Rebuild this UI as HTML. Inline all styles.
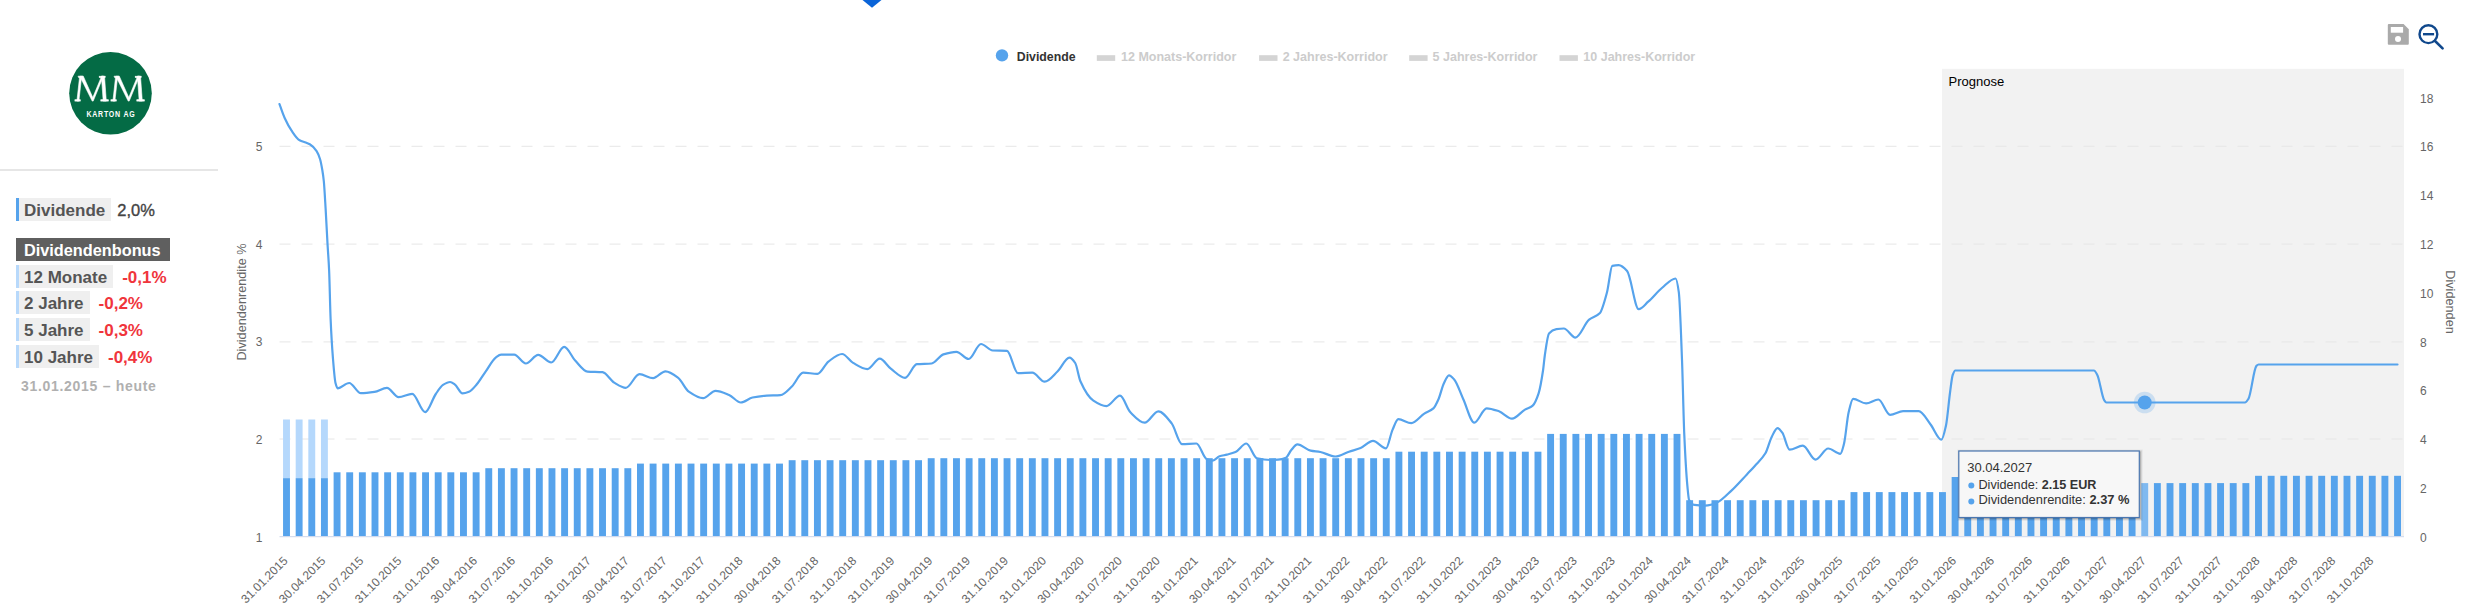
<!DOCTYPE html>
<html><head><meta charset="utf-8"><style>
html,body{margin:0;padding:0;background:#fff;width:2471px;height:616px;overflow:hidden;position:relative;font-family:"Liberation Sans",sans-serif}
svg text{font-family:"Liberation Sans",sans-serif}
.row{position:absolute;left:16px;height:23px;white-space:nowrap;font-size:17px;line-height:23px}
.row>span>i{font-style:normal;position:relative;top:1px}
.lab{display:inline-block;border-left:3px solid #b8d9fb;background:#efefef;padding:0 6px 0 5px;color:#555;font-weight:bold;height:23px}
.val{display:inline-block;margin-left:9px;color:#f0353c;font-weight:bold}
</style></head><body>
<svg width="2471" height="616" style="position:absolute;left:0;top:0">
<path d="M862.5,0 L881.5,0 L872,7.8 Z" fill="#0a64d8"/>
<g id="logo">
<circle cx="110.5" cy="93.3" r="41.3" fill="#046b45"/>
<g fill="#fff" stroke="#fff" stroke-width="0.6" id="m1">
<polygon points="76.9,101.1 78.9,101.1 81.6,76.8 79.6,76.8"/>
<rect x="74.9" y="99.7" width="5.4" height="1.4"/>
<polygon points="78,76.2 82.8,76.2 82.8,77.6 78.6,77.6"/>
<polygon points="79.8,76.2 83.3,76.2 92.8,97.5 101.6,76.2 103.4,76.2 93.2,101.1 92.2,101.1"/>
<polygon points="101.4,76.2 104.5,76.2 106.3,101.1 103.2,101.1"/>
<rect x="99.2" y="76.2" width="6" height="1.4"/>
<rect x="100.8" y="99.7" width="7.6" height="1.4"/>
</g>
<g fill="#fff" stroke="#fff" stroke-width="0.6" transform="translate(36,0)">
<polygon points="76.9,101.1 78.9,101.1 81.6,76.8 79.6,76.8"/>
<rect x="74.9" y="99.7" width="5.4" height="1.4"/>
<polygon points="78,76.2 82.8,76.2 82.8,77.6 78.6,77.6"/>
<polygon points="79.8,76.2 83.3,76.2 92.8,97.5 101.6,76.2 103.4,76.2 93.2,101.1 92.2,101.1"/>
<polygon points="101.4,76.2 104.5,76.2 106.3,101.1 103.2,101.1"/>
<rect x="99.2" y="76.2" width="6" height="1.4"/>
<rect x="100.8" y="99.7" width="7.6" height="1.4"/>
</g>
<text transform="translate(86.4,116.6) scale(0.78,1)" font-size="9" font-weight="bold" fill="#fff" letter-spacing="1">KARTON AG</text>
</g>
<rect x="1942" y="68.8" width="462" height="467.5" fill="#f2f2f2"/>
<line x1="279.5" y1="146.3" x2="2404" y2="146.3" stroke="#e6e6e6" stroke-width="1" stroke-dasharray="11,11"/><line x1="279.5" y1="244.1" x2="2404" y2="244.1" stroke="#e6e6e6" stroke-width="1" stroke-dasharray="11,11"/><line x1="279.5" y1="341.9" x2="2404" y2="341.9" stroke="#e6e6e6" stroke-width="1" stroke-dasharray="11,11"/><line x1="279.5" y1="439.0" x2="2404" y2="439.0" stroke="#e6e6e6" stroke-width="1" stroke-dasharray="11,11"/>
<rect x="283.05" y="478.1" width="6.9" height="58.1" fill="#56a3ec"/><rect x="283.05" y="419.5" width="6.9" height="58.6" fill="#b5d8fc"/><rect x="295.69" y="478.1" width="6.9" height="58.1" fill="#56a3ec"/><rect x="295.69" y="419.5" width="6.9" height="58.6" fill="#b5d8fc"/><rect x="308.33" y="478.1" width="6.9" height="58.1" fill="#56a3ec"/><rect x="308.33" y="419.5" width="6.9" height="58.6" fill="#b5d8fc"/><rect x="320.97" y="478.1" width="6.9" height="58.1" fill="#56a3ec"/><rect x="320.97" y="419.5" width="6.9" height="58.6" fill="#b5d8fc"/><rect x="333.61" y="472.3" width="6.9" height="63.9" fill="#56a3ec"/><rect x="346.25" y="472.3" width="6.9" height="63.9" fill="#56a3ec"/><rect x="358.90" y="472.3" width="6.9" height="63.9" fill="#56a3ec"/><rect x="371.54" y="472.3" width="6.9" height="63.9" fill="#56a3ec"/><rect x="384.18" y="472.3" width="6.9" height="63.9" fill="#56a3ec"/><rect x="396.82" y="472.3" width="6.9" height="63.9" fill="#56a3ec"/><rect x="409.46" y="472.3" width="6.9" height="63.9" fill="#56a3ec"/><rect x="422.10" y="472.3" width="6.9" height="63.9" fill="#56a3ec"/><rect x="434.74" y="472.3" width="6.9" height="63.9" fill="#56a3ec"/><rect x="447.38" y="472.3" width="6.9" height="63.9" fill="#56a3ec"/><rect x="460.02" y="472.3" width="6.9" height="63.9" fill="#56a3ec"/><rect x="472.67" y="472.3" width="6.9" height="63.9" fill="#56a3ec"/><rect x="485.31" y="468.2" width="6.9" height="68.0" fill="#56a3ec"/><rect x="497.95" y="468.2" width="6.9" height="68.0" fill="#56a3ec"/><rect x="510.59" y="468.2" width="6.9" height="68.0" fill="#56a3ec"/><rect x="523.23" y="468.2" width="6.9" height="68.0" fill="#56a3ec"/><rect x="535.87" y="468.2" width="6.9" height="68.0" fill="#56a3ec"/><rect x="548.51" y="468.2" width="6.9" height="68.0" fill="#56a3ec"/><rect x="561.15" y="468.2" width="6.9" height="68.0" fill="#56a3ec"/><rect x="573.79" y="468.2" width="6.9" height="68.0" fill="#56a3ec"/><rect x="586.43" y="468.2" width="6.9" height="68.0" fill="#56a3ec"/><rect x="599.07" y="468.2" width="6.9" height="68.0" fill="#56a3ec"/><rect x="611.72" y="468.2" width="6.9" height="68.0" fill="#56a3ec"/><rect x="624.36" y="468.2" width="6.9" height="68.0" fill="#56a3ec"/><rect x="637.00" y="463.6" width="6.9" height="72.6" fill="#56a3ec"/><rect x="649.64" y="463.6" width="6.9" height="72.6" fill="#56a3ec"/><rect x="662.28" y="463.6" width="6.9" height="72.6" fill="#56a3ec"/><rect x="674.92" y="463.6" width="6.9" height="72.6" fill="#56a3ec"/><rect x="687.56" y="463.6" width="6.9" height="72.6" fill="#56a3ec"/><rect x="700.20" y="463.6" width="6.9" height="72.6" fill="#56a3ec"/><rect x="712.84" y="463.6" width="6.9" height="72.6" fill="#56a3ec"/><rect x="725.48" y="463.6" width="6.9" height="72.6" fill="#56a3ec"/><rect x="738.13" y="463.6" width="6.9" height="72.6" fill="#56a3ec"/><rect x="750.77" y="463.6" width="6.9" height="72.6" fill="#56a3ec"/><rect x="763.41" y="463.6" width="6.9" height="72.6" fill="#56a3ec"/><rect x="776.05" y="463.6" width="6.9" height="72.6" fill="#56a3ec"/><rect x="788.69" y="460.2" width="6.9" height="76.0" fill="#56a3ec"/><rect x="801.33" y="460.2" width="6.9" height="76.0" fill="#56a3ec"/><rect x="813.97" y="460.2" width="6.9" height="76.0" fill="#56a3ec"/><rect x="826.61" y="460.2" width="6.9" height="76.0" fill="#56a3ec"/><rect x="839.25" y="460.2" width="6.9" height="76.0" fill="#56a3ec"/><rect x="851.89" y="460.2" width="6.9" height="76.0" fill="#56a3ec"/><rect x="864.54" y="460.2" width="6.9" height="76.0" fill="#56a3ec"/><rect x="877.18" y="460.2" width="6.9" height="76.0" fill="#56a3ec"/><rect x="889.82" y="460.2" width="6.9" height="76.0" fill="#56a3ec"/><rect x="902.46" y="460.2" width="6.9" height="76.0" fill="#56a3ec"/><rect x="915.10" y="460.2" width="6.9" height="76.0" fill="#56a3ec"/><rect x="927.74" y="458.2" width="6.9" height="78.0" fill="#56a3ec"/><rect x="940.38" y="458.2" width="6.9" height="78.0" fill="#56a3ec"/><rect x="953.02" y="458.2" width="6.9" height="78.0" fill="#56a3ec"/><rect x="965.66" y="458.2" width="6.9" height="78.0" fill="#56a3ec"/><rect x="978.30" y="458.2" width="6.9" height="78.0" fill="#56a3ec"/><rect x="990.95" y="458.2" width="6.9" height="78.0" fill="#56a3ec"/><rect x="1003.59" y="458.2" width="6.9" height="78.0" fill="#56a3ec"/><rect x="1016.23" y="458.2" width="6.9" height="78.0" fill="#56a3ec"/><rect x="1028.87" y="458.2" width="6.9" height="78.0" fill="#56a3ec"/><rect x="1041.51" y="458.2" width="6.9" height="78.0" fill="#56a3ec"/><rect x="1054.15" y="458.2" width="6.9" height="78.0" fill="#56a3ec"/><rect x="1066.79" y="458.2" width="6.9" height="78.0" fill="#56a3ec"/><rect x="1079.43" y="458.2" width="6.9" height="78.0" fill="#56a3ec"/><rect x="1092.07" y="458.2" width="6.9" height="78.0" fill="#56a3ec"/><rect x="1104.71" y="458.2" width="6.9" height="78.0" fill="#56a3ec"/><rect x="1117.36" y="458.2" width="6.9" height="78.0" fill="#56a3ec"/><rect x="1130.00" y="458.2" width="6.9" height="78.0" fill="#56a3ec"/><rect x="1142.64" y="458.2" width="6.9" height="78.0" fill="#56a3ec"/><rect x="1155.28" y="458.2" width="6.9" height="78.0" fill="#56a3ec"/><rect x="1167.92" y="458.2" width="6.9" height="78.0" fill="#56a3ec"/><rect x="1180.56" y="458.2" width="6.9" height="78.0" fill="#56a3ec"/><rect x="1193.20" y="458.2" width="6.9" height="78.0" fill="#56a3ec"/><rect x="1205.84" y="458.2" width="6.9" height="78.0" fill="#56a3ec"/><rect x="1218.48" y="458.2" width="6.9" height="78.0" fill="#56a3ec"/><rect x="1231.12" y="458.2" width="6.9" height="78.0" fill="#56a3ec"/><rect x="1243.77" y="458.2" width="6.9" height="78.0" fill="#56a3ec"/><rect x="1256.41" y="458.2" width="6.9" height="78.0" fill="#56a3ec"/><rect x="1269.05" y="458.2" width="6.9" height="78.0" fill="#56a3ec"/><rect x="1281.69" y="458.2" width="6.9" height="78.0" fill="#56a3ec"/><rect x="1294.33" y="458.2" width="6.9" height="78.0" fill="#56a3ec"/><rect x="1306.97" y="458.2" width="6.9" height="78.0" fill="#56a3ec"/><rect x="1319.61" y="458.2" width="6.9" height="78.0" fill="#56a3ec"/><rect x="1332.25" y="458.2" width="6.9" height="78.0" fill="#56a3ec"/><rect x="1344.89" y="458.2" width="6.9" height="78.0" fill="#56a3ec"/><rect x="1357.53" y="458.2" width="6.9" height="78.0" fill="#56a3ec"/><rect x="1370.18" y="458.2" width="6.9" height="78.0" fill="#56a3ec"/><rect x="1382.82" y="458.2" width="6.9" height="78.0" fill="#56a3ec"/><rect x="1395.46" y="451.7" width="6.9" height="84.5" fill="#56a3ec"/><rect x="1408.10" y="451.7" width="6.9" height="84.5" fill="#56a3ec"/><rect x="1420.74" y="451.7" width="6.9" height="84.5" fill="#56a3ec"/><rect x="1433.38" y="451.7" width="6.9" height="84.5" fill="#56a3ec"/><rect x="1446.02" y="451.7" width="6.9" height="84.5" fill="#56a3ec"/><rect x="1458.66" y="451.7" width="6.9" height="84.5" fill="#56a3ec"/><rect x="1471.30" y="451.7" width="6.9" height="84.5" fill="#56a3ec"/><rect x="1483.94" y="451.7" width="6.9" height="84.5" fill="#56a3ec"/><rect x="1496.59" y="451.7" width="6.9" height="84.5" fill="#56a3ec"/><rect x="1509.23" y="451.7" width="6.9" height="84.5" fill="#56a3ec"/><rect x="1521.87" y="451.7" width="6.9" height="84.5" fill="#56a3ec"/><rect x="1534.51" y="451.7" width="6.9" height="84.5" fill="#56a3ec"/><rect x="1547.15" y="433.9" width="6.9" height="102.3" fill="#56a3ec"/><rect x="1559.79" y="433.9" width="6.9" height="102.3" fill="#56a3ec"/><rect x="1572.43" y="433.9" width="6.9" height="102.3" fill="#56a3ec"/><rect x="1585.07" y="433.9" width="6.9" height="102.3" fill="#56a3ec"/><rect x="1597.71" y="433.9" width="6.9" height="102.3" fill="#56a3ec"/><rect x="1610.36" y="433.9" width="6.9" height="102.3" fill="#56a3ec"/><rect x="1623.00" y="433.9" width="6.9" height="102.3" fill="#56a3ec"/><rect x="1635.64" y="433.9" width="6.9" height="102.3" fill="#56a3ec"/><rect x="1648.28" y="433.9" width="6.9" height="102.3" fill="#56a3ec"/><rect x="1660.92" y="433.9" width="6.9" height="102.3" fill="#56a3ec"/><rect x="1673.56" y="433.9" width="6.9" height="102.3" fill="#56a3ec"/><rect x="1686.20" y="500.2" width="6.9" height="36.0" fill="#56a3ec"/><rect x="1698.84" y="500.2" width="6.9" height="36.0" fill="#56a3ec"/><rect x="1711.48" y="500.2" width="6.9" height="36.0" fill="#56a3ec"/><rect x="1724.12" y="500.2" width="6.9" height="36.0" fill="#56a3ec"/><rect x="1736.76" y="500.2" width="6.9" height="36.0" fill="#56a3ec"/><rect x="1749.41" y="500.2" width="6.9" height="36.0" fill="#56a3ec"/><rect x="1762.05" y="500.2" width="6.9" height="36.0" fill="#56a3ec"/><rect x="1774.69" y="500.2" width="6.9" height="36.0" fill="#56a3ec"/><rect x="1787.33" y="500.2" width="6.9" height="36.0" fill="#56a3ec"/><rect x="1799.97" y="500.2" width="6.9" height="36.0" fill="#56a3ec"/><rect x="1812.61" y="500.2" width="6.9" height="36.0" fill="#56a3ec"/><rect x="1825.25" y="500.2" width="6.9" height="36.0" fill="#56a3ec"/><rect x="1837.89" y="500.2" width="6.9" height="36.0" fill="#56a3ec"/><rect x="1850.53" y="492.1" width="6.9" height="44.1" fill="#56a3ec"/><rect x="1863.17" y="492.1" width="6.9" height="44.1" fill="#56a3ec"/><rect x="1875.82" y="492.1" width="6.9" height="44.1" fill="#56a3ec"/><rect x="1888.46" y="492.1" width="6.9" height="44.1" fill="#56a3ec"/><rect x="1901.10" y="492.1" width="6.9" height="44.1" fill="#56a3ec"/><rect x="1913.74" y="492.1" width="6.9" height="44.1" fill="#56a3ec"/><rect x="1926.38" y="492.1" width="6.9" height="44.1" fill="#56a3ec"/><rect x="1939.02" y="492.1" width="6.9" height="44.1" fill="#56a3ec"/><rect x="1951.66" y="477.0" width="6.9" height="59.2" fill="#56a3ec"/><rect x="1964.30" y="477.0" width="6.9" height="59.2" fill="#56a3ec"/><rect x="1976.94" y="477.0" width="6.9" height="59.2" fill="#56a3ec"/><rect x="1989.59" y="477.0" width="6.9" height="59.2" fill="#56a3ec"/><rect x="2002.23" y="477.0" width="6.9" height="59.2" fill="#56a3ec"/><rect x="2014.87" y="477.0" width="6.9" height="59.2" fill="#56a3ec"/><rect x="2027.51" y="477.0" width="6.9" height="59.2" fill="#56a3ec"/><rect x="2040.15" y="477.0" width="6.9" height="59.2" fill="#56a3ec"/><rect x="2052.79" y="477.0" width="6.9" height="59.2" fill="#56a3ec"/><rect x="2065.43" y="477.0" width="6.9" height="59.2" fill="#56a3ec"/><rect x="2078.07" y="477.0" width="6.9" height="59.2" fill="#56a3ec"/><rect x="2090.71" y="477.0" width="6.9" height="59.2" fill="#56a3ec"/><rect x="2103.35" y="483.1" width="6.9" height="53.1" fill="#56a3ec"/><rect x="2115.99" y="483.1" width="6.9" height="53.1" fill="#56a3ec"/><rect x="2128.64" y="483.1" width="6.9" height="53.1" fill="#56a3ec"/><rect x="2141.28" y="483.1" width="6.9" height="53.1" fill="#7fb9f0"/><rect x="2153.92" y="483.1" width="6.9" height="53.1" fill="#56a3ec"/><rect x="2166.56" y="483.1" width="6.9" height="53.1" fill="#56a3ec"/><rect x="2179.20" y="483.1" width="6.9" height="53.1" fill="#56a3ec"/><rect x="2191.84" y="483.1" width="6.9" height="53.1" fill="#56a3ec"/><rect x="2204.48" y="483.1" width="6.9" height="53.1" fill="#56a3ec"/><rect x="2217.12" y="483.1" width="6.9" height="53.1" fill="#56a3ec"/><rect x="2229.76" y="483.1" width="6.9" height="53.1" fill="#56a3ec"/><rect x="2242.41" y="483.1" width="6.9" height="53.1" fill="#56a3ec"/><rect x="2255.05" y="475.8" width="6.9" height="60.4" fill="#56a3ec"/><rect x="2267.69" y="475.8" width="6.9" height="60.4" fill="#56a3ec"/><rect x="2280.33" y="475.8" width="6.9" height="60.4" fill="#56a3ec"/><rect x="2292.97" y="475.8" width="6.9" height="60.4" fill="#56a3ec"/><rect x="2305.61" y="475.8" width="6.9" height="60.4" fill="#56a3ec"/><rect x="2318.25" y="475.8" width="6.9" height="60.4" fill="#56a3ec"/><rect x="2330.89" y="475.8" width="6.9" height="60.4" fill="#56a3ec"/><rect x="2343.53" y="475.8" width="6.9" height="60.4" fill="#56a3ec"/><rect x="2356.17" y="475.8" width="6.9" height="60.4" fill="#56a3ec"/><rect x="2368.82" y="475.8" width="6.9" height="60.4" fill="#56a3ec"/><rect x="2381.46" y="475.8" width="6.9" height="60.4" fill="#56a3ec"/><rect x="2394.10" y="475.8" width="6.9" height="60.4" fill="#56a3ec"/>
<line x1="279.5" y1="536.7" x2="2404" y2="536.7" stroke="#ccd6eb" stroke-width="1"/>
<path d="M279.50,104.10 C281.27,108.80 283.03,114.33 284.80,118.20 C287.07,123.17 289.33,127.39 291.60,130.70 C294.27,134.59 296.93,138.82 299.60,140.30 C301.67,141.45 303.73,141.78 305.80,142.60 C307.13,143.13 308.47,143.53 309.80,144.30 C312.07,145.61 314.33,147.78 316.60,151.10 C317.73,152.76 318.87,155.37 320.00,159.00 C320.77,161.45 321.53,165.49 322.30,170.00 C322.80,172.94 323.30,176.10 323.80,181.00 C324.40,186.88 325.00,198.39 325.60,208.40 C326.23,218.96 326.87,232.46 327.50,243.50 C328.03,252.80 328.57,258.26 329.10,270.00 C329.60,281.01 330.10,307.31 330.60,318.70 C331.37,336.16 332.13,348.17 332.90,357.70 C333.77,368.48 334.63,379.60 335.50,383.00 C336.20,385.75 336.90,388.30 337.60,388.30 C341.47,388.30 345.33,383.00 349.20,383.00 C353.10,383.00 357.00,393.20 360.90,393.20 C365.43,393.20 369.97,392.58 374.50,391.90 C378.63,391.28 382.77,387.80 386.90,387.80 C390.80,387.80 394.70,397.10 398.60,397.10 C403.13,397.10 407.67,393.90 412.20,393.90 C416.53,393.90 420.87,412.10 425.20,412.10 C428.73,412.10 432.27,399.08 435.80,394.00 C438.20,390.55 440.60,386.38 443.00,384.90 C445.37,383.44 447.73,382.00 450.10,382.00 C451.63,382.00 453.17,383.26 454.70,384.30 C457.30,386.06 459.90,393.40 462.50,393.40 C464.67,393.40 466.83,392.63 469.00,391.80 C471.60,390.80 474.20,387.29 476.80,384.30 C479.73,380.93 482.67,375.73 485.60,371.60 C489.07,366.71 492.53,359.72 496.00,357.30 C497.73,356.09 499.47,354.70 501.20,354.70 C505.53,354.70 509.87,354.70 514.20,354.70 C518.07,354.70 521.93,363.50 525.80,363.50 C529.93,363.50 534.07,354.90 538.20,354.90 C542.53,354.90 546.87,362.50 551.20,362.50 C555.53,362.50 559.87,346.90 564.20,346.90 C567.87,346.90 571.53,356.66 575.20,360.50 C579.30,364.79 583.40,371.28 587.50,371.60 C592.50,371.99 597.50,371.80 602.50,372.20 C606.40,372.51 610.30,380.28 614.20,382.60 C618.07,384.90 621.93,387.80 625.80,387.80 C630.37,387.80 634.93,374.20 639.50,374.20 C644.03,374.20 648.57,378.10 653.10,378.10 C657.23,378.10 661.37,371.30 665.50,371.30 C669.80,371.30 674.10,374.82 678.40,378.10 C681.87,380.75 685.33,389.30 688.80,391.70 C693.57,395.00 698.33,398.20 703.10,398.20 C707.23,398.20 711.37,390.80 715.50,390.80 C720.03,390.80 724.57,393.02 729.10,394.90 C733.00,396.52 736.90,402.50 740.80,402.50 C744.70,402.50 748.60,398.30 752.50,397.50 C757.27,396.52 762.03,395.87 766.80,395.60 C771.33,395.34 775.87,395.43 780.40,395.10 C784.30,394.82 788.20,389.88 792.10,386.20 C795.77,382.74 799.43,372.60 803.10,372.60 C807.87,372.60 812.63,373.90 817.40,373.90 C821.07,373.90 824.73,364.35 828.40,361.60 C832.97,358.17 837.53,354.00 842.10,354.00 C845.77,354.00 849.43,360.80 853.10,362.90 C857.87,365.63 862.63,369.10 867.40,369.10 C871.50,369.10 875.60,358.70 879.70,358.70 C883.40,358.70 887.10,365.92 890.80,368.70 C895.57,372.28 900.33,377.80 905.10,377.80 C909.00,377.80 912.90,364.57 916.80,364.20 C921.77,363.73 926.73,363.96 931.70,363.50 C935.60,363.14 939.50,355.65 943.40,354.40 C947.73,353.01 952.07,351.80 956.40,351.80 C960.50,351.80 964.60,359.00 968.70,359.00 C972.80,359.00 976.90,344.00 981.00,344.00 C984.90,344.00 988.80,350.29 992.70,350.50 C997.47,350.76 1002.23,350.63 1007.00,350.90 C1010.67,351.11 1014.33,373.20 1018.00,373.20 C1022.77,373.20 1027.53,372.60 1032.30,372.60 C1036.43,372.60 1040.57,381.70 1044.70,381.70 C1049.03,381.70 1053.37,375.42 1057.70,371.30 C1061.60,367.59 1065.50,357.70 1069.40,357.70 C1071.33,357.70 1073.27,360.17 1075.20,363.00 C1076.93,365.54 1078.67,377.35 1080.40,381.20 C1084.73,390.82 1089.07,397.74 1093.40,400.60 C1097.73,403.46 1102.07,406.10 1106.40,406.10 C1110.93,406.10 1115.47,395.70 1120.00,395.70 C1123.47,395.70 1126.93,408.77 1130.40,412.30 C1135.17,417.16 1139.93,422.70 1144.70,422.70 C1149.23,422.70 1153.77,411.30 1158.30,411.30 C1162.77,411.30 1167.23,417.75 1171.70,423.40 C1175.17,427.78 1178.63,444.20 1182.10,444.20 C1186.87,444.20 1191.63,443.50 1196.40,443.50 C1199.77,443.50 1203.13,457.42 1206.50,458.90 C1208.57,459.81 1210.63,460.60 1212.70,460.60 C1214.97,460.60 1217.23,457.07 1219.50,456.30 C1221.97,455.46 1224.43,455.24 1226.90,454.60 C1229.77,453.85 1232.63,453.23 1235.50,452.00 C1239.10,450.45 1242.70,443.50 1246.30,443.50 C1249.87,443.50 1253.43,457.46 1257.00,458.30 C1261.57,459.38 1266.13,460.00 1270.70,460.00 C1273.13,460.00 1275.57,459.87 1278.00,459.70 C1280.67,459.51 1283.33,458.90 1286.00,457.70 C1287.70,456.94 1289.40,452.25 1291.10,450.30 C1293.20,447.89 1295.30,444.40 1297.40,444.40 C1301.80,444.40 1306.20,449.66 1310.60,450.60 C1313.87,451.30 1317.13,451.38 1320.40,452.00 C1325.37,452.94 1330.33,456.50 1335.30,456.50 C1339.87,456.50 1344.43,453.20 1349.00,451.70 C1352.87,450.43 1356.73,449.66 1360.60,448.10 C1364.73,446.43 1368.87,440.90 1373.00,440.90 C1377.33,440.90 1381.67,448.30 1386.00,448.30 C1388.17,448.30 1390.33,434.72 1392.50,429.90 C1394.43,425.60 1396.37,419.20 1398.30,419.20 C1402.63,419.20 1406.97,423.10 1411.30,423.10 C1415.63,423.10 1419.97,416.36 1424.30,413.60 C1427.33,411.67 1430.37,411.16 1433.40,408.40 C1435.13,406.82 1436.87,402.91 1438.60,399.00 C1440.33,395.09 1442.07,386.95 1443.80,383.40 C1445.53,379.85 1447.27,375.30 1449.00,375.30 C1450.73,375.30 1452.47,377.54 1454.20,379.50 C1457.20,382.89 1460.20,392.56 1463.20,399.00 C1466.90,406.94 1470.60,422.60 1474.30,422.60 C1478.40,422.60 1482.50,408.30 1486.60,408.30 C1490.73,408.30 1494.87,409.90 1499.00,411.30 C1503.33,412.77 1507.67,418.70 1512.00,418.70 C1516.33,418.70 1520.67,412.11 1525.00,409.60 C1527.57,408.11 1530.13,407.85 1532.70,405.70 C1534.67,404.05 1536.63,399.37 1538.60,393.40 C1540.10,388.85 1541.60,380.06 1543.10,370.00 C1543.67,366.20 1544.23,359.32 1544.80,355.50 C1546.20,346.07 1547.60,334.95 1549.00,333.40 C1551.47,330.67 1553.93,329.60 1556.40,329.20 C1558.87,328.80 1561.33,328.50 1563.80,328.50 C1567.67,328.50 1571.53,337.60 1575.40,337.60 C1579.97,337.60 1584.53,323.41 1589.10,319.70 C1592.63,316.83 1596.17,316.98 1599.70,313.30 C1602.13,310.77 1604.57,301.23 1607.00,292.20 C1608.77,285.65 1610.53,266.14 1612.30,265.80 C1614.43,265.40 1616.57,265.20 1618.70,265.20 C1621.50,265.20 1624.30,267.97 1627.10,271.10 C1630.97,275.42 1634.83,309.10 1638.70,309.10 C1641.87,309.10 1645.03,304.45 1648.20,301.70 C1652.77,297.73 1657.33,291.74 1661.90,288.00 C1666.47,284.26 1671.03,278.50 1675.60,278.50 C1676.67,278.50 1677.73,284.61 1678.80,292.20 C1679.87,299.79 1680.93,332.11 1682.00,359.80 C1682.77,379.70 1683.53,417.78 1684.30,434.90 C1685.33,457.97 1686.37,475.31 1687.40,486.20 C1687.97,492.17 1688.53,498.90 1689.10,500.00 C1690.83,503.38 1692.57,504.63 1694.30,504.90 C1697.83,505.45 1701.37,505.70 1704.90,505.70 C1707.33,505.70 1709.77,505.09 1712.20,504.50 C1714.37,503.97 1716.53,502.83 1718.70,501.60 C1722.77,499.28 1726.83,494.92 1730.90,491.10 C1736.23,486.09 1741.57,480.06 1746.90,474.40 C1749.53,471.60 1752.17,468.87 1754.80,465.90 C1758.33,461.92 1761.87,459.26 1765.40,453.30 C1767.50,449.76 1769.60,440.91 1771.70,436.90 C1773.63,433.21 1775.57,428.10 1777.50,428.10 C1779.10,428.10 1780.70,430.59 1782.30,432.70 C1784.73,435.91 1787.17,449.60 1789.60,449.60 C1794.00,449.60 1798.40,445.70 1802.80,445.70 C1807.03,445.70 1811.27,459.60 1815.50,459.60 C1819.73,459.60 1823.97,448.50 1828.20,448.50 C1832.23,448.50 1836.27,453.80 1840.30,453.80 C1841.53,453.80 1842.77,448.50 1844.00,443.80 C1845.53,437.96 1847.07,418.94 1848.60,412.50 C1850.10,406.20 1851.60,398.80 1853.10,398.80 C1857.43,398.80 1861.77,403.40 1866.10,403.40 C1870.20,403.40 1874.30,399.50 1878.40,399.50 C1882.30,399.50 1886.20,414.80 1890.10,414.80 C1894.43,414.80 1898.77,411.20 1903.10,411.20 C1908.30,411.20 1913.50,411.20 1918.70,411.20 C1922.60,411.20 1926.50,419.35 1930.40,424.20 C1934.07,428.76 1937.73,439.70 1941.40,439.70 C1942.93,439.70 1944.47,432.43 1946.00,425.50 C1947.37,419.32 1948.73,401.85 1950.10,392.00 C1950.97,385.76 1951.83,377.37 1952.70,375.00 C1953.57,372.63 1954.43,370.50 1955.30,370.50 C2001.50,370.50 2047.70,370.50 2093.90,370.50 C2095.03,370.50 2096.17,372.90 2097.30,375.00 C2099.57,379.19 2101.83,396.51 2104.10,400.00 C2104.87,401.18 2105.63,402.50 2106.40,402.50 C2152.60,402.50 2198.80,402.50 2245.00,402.50 C2246.13,402.50 2247.27,400.67 2248.40,398.90 C2251.07,394.74 2253.73,368.48 2256.40,365.90 C2257.13,365.19 2257.87,364.50 2258.60,364.50 C2304.90,364.50 2351.20,364.50 2397.50,364.50" fill="none" stroke="#56a3ec" stroke-width="2.2" stroke-linejoin="round" stroke-linecap="round"/>
<circle cx="2144.7" cy="402.5" r="10.8" fill="#56a3ec" fill-opacity="0.25"/>
<circle cx="2144.7" cy="402.5" r="7" fill="#56a3ec"/>
<text x="1948.6" y="86.2" font-size="13" fill="#000">Prognose</text>
<g font-size="12" fill="#666"><text x="262.5" y="541.5" text-anchor="end">1</text><text x="262.5" y="443.9" text-anchor="end">2</text><text x="262.5" y="346.3" text-anchor="end">3</text><text x="262.5" y="248.7" text-anchor="end">4</text><text x="262.5" y="151.1" text-anchor="end">5</text><text x="2420" y="541.7">0</text><text x="2420" y="492.9">2</text><text x="2420" y="444.1">4</text><text x="2420" y="395.3">6</text><text x="2420" y="346.5">8</text><text x="2420" y="297.7">10</text><text x="2420" y="248.9">12</text><text x="2420" y="200.1">14</text><text x="2420" y="151.3">16</text><text x="2420" y="102.5">18</text></g>
<g font-size="12" fill="#666"><text transform="translate(288.4,561.5) rotate(-45)" text-anchor="end">31.01.2015</text><text transform="translate(326.3,561.5) rotate(-45)" text-anchor="end">30.04.2015</text><text transform="translate(364.2,561.5) rotate(-45)" text-anchor="end">31.07.2015</text><text transform="translate(402.2,561.5) rotate(-45)" text-anchor="end">31.10.2015</text><text transform="translate(440.1,561.5) rotate(-45)" text-anchor="end">31.01.2016</text><text transform="translate(478.0,561.5) rotate(-45)" text-anchor="end">30.04.2016</text><text transform="translate(515.9,561.5) rotate(-45)" text-anchor="end">31.07.2016</text><text transform="translate(553.9,561.5) rotate(-45)" text-anchor="end">31.10.2016</text><text transform="translate(591.8,561.5) rotate(-45)" text-anchor="end">31.01.2017</text><text transform="translate(629.7,561.5) rotate(-45)" text-anchor="end">30.04.2017</text><text transform="translate(667.6,561.5) rotate(-45)" text-anchor="end">31.07.2017</text><text transform="translate(705.6,561.5) rotate(-45)" text-anchor="end">31.10.2017</text><text transform="translate(743.5,561.5) rotate(-45)" text-anchor="end">31.01.2018</text><text transform="translate(781.4,561.5) rotate(-45)" text-anchor="end">30.04.2018</text><text transform="translate(819.3,561.5) rotate(-45)" text-anchor="end">31.07.2018</text><text transform="translate(857.2,561.5) rotate(-45)" text-anchor="end">31.10.2018</text><text transform="translate(895.2,561.5) rotate(-45)" text-anchor="end">31.01.2019</text><text transform="translate(933.1,561.5) rotate(-45)" text-anchor="end">30.04.2019</text><text transform="translate(971.0,561.5) rotate(-45)" text-anchor="end">31.07.2019</text><text transform="translate(1008.9,561.5) rotate(-45)" text-anchor="end">31.10.2019</text><text transform="translate(1046.9,561.5) rotate(-45)" text-anchor="end">31.01.2020</text><text transform="translate(1084.8,561.5) rotate(-45)" text-anchor="end">30.04.2020</text><text transform="translate(1122.7,561.5) rotate(-45)" text-anchor="end">31.07.2020</text><text transform="translate(1160.6,561.5) rotate(-45)" text-anchor="end">31.10.2020</text><text transform="translate(1198.6,561.5) rotate(-45)" text-anchor="end">31.01.2021</text><text transform="translate(1236.5,561.5) rotate(-45)" text-anchor="end">30.04.2021</text><text transform="translate(1274.4,561.5) rotate(-45)" text-anchor="end">31.07.2021</text><text transform="translate(1312.3,561.5) rotate(-45)" text-anchor="end">31.10.2021</text><text transform="translate(1350.2,561.5) rotate(-45)" text-anchor="end">31.01.2022</text><text transform="translate(1388.2,561.5) rotate(-45)" text-anchor="end">30.04.2022</text><text transform="translate(1426.1,561.5) rotate(-45)" text-anchor="end">31.07.2022</text><text transform="translate(1464.0,561.5) rotate(-45)" text-anchor="end">31.10.2022</text><text transform="translate(1501.9,561.5) rotate(-45)" text-anchor="end">31.01.2023</text><text transform="translate(1539.9,561.5) rotate(-45)" text-anchor="end">30.04.2023</text><text transform="translate(1577.8,561.5) rotate(-45)" text-anchor="end">31.07.2023</text><text transform="translate(1615.7,561.5) rotate(-45)" text-anchor="end">31.10.2023</text><text transform="translate(1653.6,561.5) rotate(-45)" text-anchor="end">31.01.2024</text><text transform="translate(1691.6,561.5) rotate(-45)" text-anchor="end">30.04.2024</text><text transform="translate(1729.5,561.5) rotate(-45)" text-anchor="end">31.07.2024</text><text transform="translate(1767.4,561.5) rotate(-45)" text-anchor="end">31.10.2024</text><text transform="translate(1805.3,561.5) rotate(-45)" text-anchor="end">31.01.2025</text><text transform="translate(1843.2,561.5) rotate(-45)" text-anchor="end">30.04.2025</text><text transform="translate(1881.2,561.5) rotate(-45)" text-anchor="end">31.07.2025</text><text transform="translate(1919.1,561.5) rotate(-45)" text-anchor="end">31.10.2025</text><text transform="translate(1957.0,561.5) rotate(-45)" text-anchor="end">31.01.2026</text><text transform="translate(1994.9,561.5) rotate(-45)" text-anchor="end">30.04.2026</text><text transform="translate(2032.9,561.5) rotate(-45)" text-anchor="end">31.07.2026</text><text transform="translate(2070.8,561.5) rotate(-45)" text-anchor="end">31.10.2026</text><text transform="translate(2108.7,561.5) rotate(-45)" text-anchor="end">31.01.2027</text><text transform="translate(2146.6,561.5) rotate(-45)" text-anchor="end">30.04.2027</text><text transform="translate(2184.6,561.5) rotate(-45)" text-anchor="end">31.07.2027</text><text transform="translate(2222.5,561.5) rotate(-45)" text-anchor="end">31.10.2027</text><text transform="translate(2260.4,561.5) rotate(-45)" text-anchor="end">31.01.2028</text><text transform="translate(2298.3,561.5) rotate(-45)" text-anchor="end">30.04.2028</text><text transform="translate(2336.2,561.5) rotate(-45)" text-anchor="end">31.07.2028</text><text transform="translate(2374.2,561.5) rotate(-45)" text-anchor="end">31.10.2028</text></g>
<text transform="translate(246,302) rotate(-90)" text-anchor="middle" font-size="12.7" fill="#666">Dividendenrendite %</text>
<text transform="translate(2445.6,302) rotate(90)" text-anchor="middle" font-size="12.7" fill="#666">Dividenden</text>
<!-- legend -->
<circle cx="1002" cy="55.4" r="6.2" fill="#56a3ec"/>
<text x="1016.8" y="60.9" font-size="12.3" font-weight="bold" fill="#333">Dividende</text>
<g fill="#d4d4d4">
<rect x="1096.8" y="55.2" width="18.4" height="5.7"/>
<rect x="1259.1" y="55.2" width="18.4" height="5.7"/>
<rect x="1409.2" y="55.2" width="18.4" height="5.7"/>
<rect x="1559.5" y="55.2" width="18.4" height="5.7"/>
</g>
<g font-size="12.5" font-weight="bold" fill="#cccccc">
<text x="1121" y="60.9">12 Monats-Korridor</text>
<text x="1282.7" y="60.9">2 Jahres-Korridor</text>
<text x="1432.6" y="60.9">5 Jahres-Korridor</text>
<text x="1583.3" y="60.9">10 Jahres-Korridor</text>
</g>
<!-- tooltip -->
<g transform="translate(1,1)" fill="none" stroke="#000">
<rect x="1958.8" y="451" width="180.5" height="66.5" stroke-opacity="0.05" stroke-width="5"/>
<rect x="1958.8" y="451" width="180.5" height="66.5" stroke-opacity="0.1" stroke-width="3"/>
<rect x="1958.8" y="451" width="180.5" height="66.5" stroke-opacity="0.15" stroke-width="1"/>
</g>
<rect x="1958.8" y="451" width="180.5" height="66.5" fill="#f7f7f7" stroke="#4a76b0" stroke-width="1.2"/>
<text x="1967.2" y="471.8" font-size="13" fill="#333">30.04.2027</text>
<circle cx="1971.3" cy="485.5" r="3" fill="#56a3ec"/>
<text x="1978.5" y="488.5" font-size="13" fill="#333" textLength="118" lengthAdjust="spacingAndGlyphs">Dividende: <tspan font-weight="bold">2.15 EUR</tspan></text>
<circle cx="1971.3" cy="501.5" r="3" fill="#56a3ec"/>
<text x="1978.5" y="504.3" font-size="13" fill="#333" textLength="151" lengthAdjust="spacingAndGlyphs">Dividendenrendite: <tspan font-weight="bold">2.37 %</tspan></text>
<!-- icons -->
<path d="M2388.8,24 h14.8 l5.2,5.2 v14.5 a1,1 0 0 1 -1,1 h-19 a1,1 0 0 1 -1,-1 v-18.7 a1,1 0 0 1 1,-1 z" fill="#aaaaaa"/>
<rect x="2390.8" y="27" width="12.3" height="5.7" fill="#fff"/>
<circle cx="2398" cy="39.1" r="3" fill="#fff"/>
<circle cx="2428.4" cy="34.2" r="8.9" fill="none" stroke="#10488c" stroke-width="2.4"/>
<line x1="2423" y1="34.2" x2="2434.1" y2="34.2" stroke="#10488c" stroke-width="2.4"/>
<line x1="2434.8" y1="40.8" x2="2442.6" y2="48.4" stroke="#10488c" stroke-width="2.6" stroke-linecap="round"/>
</svg>

<div style="position:absolute;left:0;top:169px;width:218px;height:2px;background:#e6e6e6"></div>
<div class="row" style="top:198px;height:23px"><span class="lab" style="border-left-color:#56a3ec"><i>Dividende</i></span><span class="val" style="color:#444;font-weight:normal;margin-left:6px;font-size:16.5px;-webkit-text-stroke:0.35px #444"><i>2,0%</i></span></div>
<div style="position:absolute;left:16px;top:238px;width:154px;height:23px;background:#5f5f5f;color:#fff;font-weight:bold;font-size:16.3px;line-height:24.5px;padding-left:8px;box-sizing:border-box">Dividendenbonus</div>
<div class="row" style="top:265px"><span class="lab"><i>12 Monate</i></span><span class="val"><i>-0,1%</i></span></div>
<div class="row" style="top:291px"><span class="lab"><i>2 Jahre</i></span><span class="val"><i>-0,2%</i></span></div>
<div class="row" style="top:318px"><span class="lab"><i>5 Jahre</i></span><span class="val"><i>-0,3%</i></span></div>
<div class="row" style="top:345px"><span class="lab"><i>10 Jahre</i></span><span class="val"><i>-0,4%</i></span></div>
<div style="position:absolute;left:21px;top:377px;color:#b0b0b0;font-weight:bold;font-size:14px;letter-spacing:0.7px;line-height:18px">31.01.2015 &ndash; heute</div>

</body></html>
